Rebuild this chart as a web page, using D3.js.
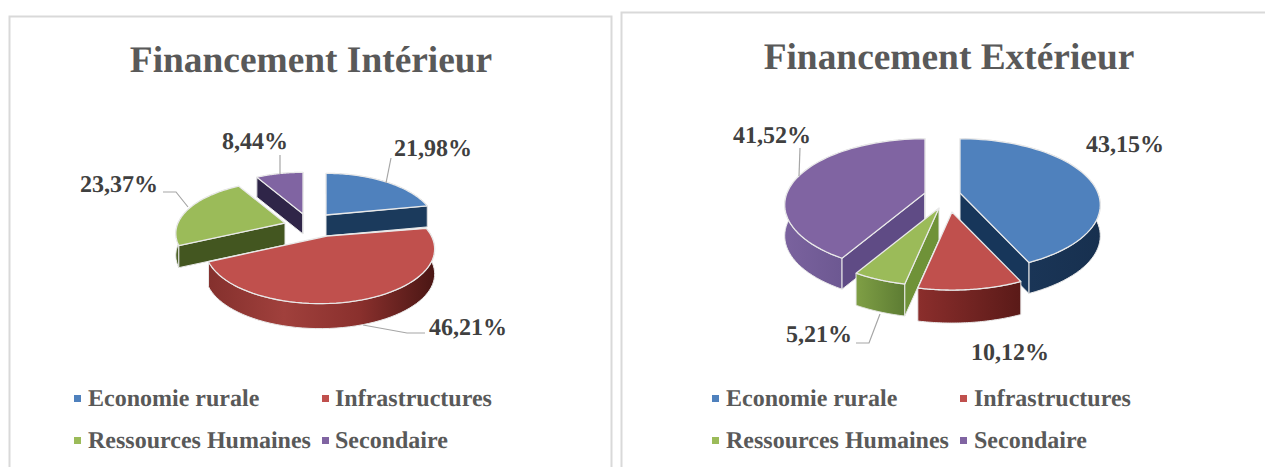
<!DOCTYPE html>
<html>
<head>
<meta charset="utf-8">
<script src="https://cdn.jsdelivr.net/npm/d3@7"></script>
<style>
    html, body { margin: 0; padding: 0; background: #fff; overflow: hidden; }
    text { font-family: "Liberation Serif", serif; font-weight: bold; text-rendering: geometricPrecision; }
</style>
</head>
<body>
<svg id="chart" width="1265" height="467"></svg>
<script>
const categories = ["Economie rurale", "Infrastructures", "Ressources Humaines", "Secondaire"];
const interieurValues = [21.98, 46.21, 23.37, 8.44];
const exterieurValues = [43.15, 10.12, 5.21, 41.52];

const topColors = ["#4f81bd", "#c0504d", "#9bbb59", "#8064a2"];

const svg = d3.select("#chart");
const defs = svg.append("defs");
const color = d3.scaleOrdinal().domain(categories).range(topColors);
const pie = d3.pie().sort(null);
const line = d3.line();

// Slices are placed by hand because each one is pulled out by a different amount
const panels = [
    {
        id: "int",
        title: "Financement Intérieur", titleX: 311, titleY: 72,
        box: [9, 16, 602, 470],
        values: interieurValues,
        radius: 107, tilt: 50, persp: 0.2,
        drawOrder: [3, 0, 2, 1],
        slices: [
            { apex: [326, 215], arc: [326, 215], scale: 1, depth: 21 },
            { apex: [327, 236], arc: [320, 238], scale: 1.05, depth: 25 },
            { apex: [285, 223], arc: [285, 223], scale: 1, depth: 22 },
            { apex: [303, 214], arc: [303, 214], scale: 1, depth: 20 }
        ],
        wallColors: ["#1b3a5c", "#6e2523", "#435620", "#2f2548"],
        outerStops: [
            ["#1b3a5c", "#1b3a5c"],
            ["#84302d", "#a0403c", "#8a302d", "#4a1614"],
            ["#4d6326", "#435620"],
            ["#2f2548", "#2f2548"]
        ],
        labels: [[394, 156], [222, 149], [80, 192], [429, 335]],
        labelIndex: [0, 3, 2, 1],
        leaders: [
            [[386, 183], [391, 158]],
            [[280, 174], [280, 155]],
            [[163, 192], [176, 192], [188, 207]],
            [[363, 325], [407, 333], [425, 333]]
        ],
        legendMarkers: [74, 322], legendText: [88, 335]
    },
    {
        id: "ext",
        title: "Financement Extérieur", titleX: 949, titleY: 69,
        box: [621, 12, 660, 470],
        values: exterieurValues,
        radius: 138, tilt: 64, persp: 0.18,
        drawOrder: [3, 0, 2, 1],
        slices: [
            { apex: [960, 193], arc: [960, 193], scale: 1, depth: 31 },
            { apex: [952, 212], arc: [952, 212], scale: 1, depth: 33 },
            { apex: [939, 208], arc: [939, 208], scale: 1, depth: 32 },
            { apex: [925, 193], arc: [925, 193], scale: 1, depth: 31 }
        ],
        wallColors: ["#17365a", "#6e2523", "#6f9238", "#5f4b85"],
        outerStops: [
            ["#1d3a5e", "#17304f"],
            ["#8b2e2c", "#5a1a18"],
            ["#7f9f45", "#5d7c33"],
            ["#7a629e", "#5a4a80"]
        ],
        labels: [[1086, 152], [971, 360], [786, 342], [733, 143]],
        labelIndex: [0, 1, 2, 3],
        leaders: [
            [[800, 148], [799, 176]],
            [[856, 343], [869, 343], [880, 314]]
        ],
        legendMarkers: [712, 960], legendText: [726, 974]
    }
];

panels.forEach(drawPanel);

function drawPanel(panel) {
    const g = svg.append("g").attr("class", "panel-" + panel.id);

    g.append("rect")
        .attr("x", panel.box[0] + 0.5).attr("y", panel.box[1] + 0.5)
        .attr("width", panel.box[2]).attr("height", panel.box[3])
        .attr("fill", "#fff").attr("stroke", "#d9d9d9").attr("stroke-width", 2);

    g.append("text")
        .attr("x", panel.titleX).attr("y", panel.titleY)
        .attr("text-anchor", "middle")
        .attr("font-size", 37.4).attr("fill", "#595959")
        .text(panel.title);

    const arcs = pie(panel.values);

    // Perspective of the disc: the back of a slice is flatter than the front
    const project = (angle, slice) => {
        const w = 1 + panel.persp * Math.cos(angle);
        return [
            slice.arc[0] + slice.scale * panel.radius * Math.sin(angle) / w,
            slice.arc[1] - slice.scale * panel.tilt * Math.cos(angle) / w
        ];
    };

    panel.drawOrder.forEach(i => {
        const d = arcs[i];
        const slice = panel.slices[i];
        const steps = d3.range(0, 61).map(t => d.startAngle + (d.endAngle - d.startAngle) * t / 60);
        const rim = steps.map(a => project(a, slice));
        const rimMid = rim[30];
        const down = p => [p[0], p[1] + slice.depth];

        const xs = d3.extent(rim, p => p[0]);
        const gradId = `${panel.id}-outer-${i}`;
        const grad = defs.append("linearGradient").attr("id", gradId)
            .attr("gradientUnits", "userSpaceOnUse")
            .attr("x1", xs[0]).attr("x2", xs[1]).attr("y1", 0).attr("y2", 0);
        const stops = panel.outerStops[i];
        stops.forEach((c, k) => grad.append("stop")
            .attr("offset", k / (stops.length - 1)).attr("stop-color", c));

        const edge = "#e9e9e9";

        // Outer wall first, then whichever cut faces look at the camera, then the top
        g.append("path")
            .attr("d", line(rim.concat(rim.map(down).reverse())) + "Z")
            .attr("fill", `url(#${gradId})`)
            .attr("stroke", edge).attr("stroke-width", 1);

        [rim[0], rim[rim.length - 1]].forEach(end => {
            const dx = end[0] - slice.apex[0];
            const dy = end[1] - slice.apex[1];
            const cross = dx * (rimMid[1] - slice.apex[1]) - dy * (rimMid[0] - slice.apex[0]);
            if (dx * cross >= 0) return;
            g.append("path")
                .attr("d", line([slice.apex, end, down(end), down(slice.apex)]) + "Z")
                .attr("fill", panel.wallColors[i])
                .attr("stroke", edge).attr("stroke-width", 1);
        });

        g.append("path")
            .attr("d", line([slice.apex].concat(rim)) + "Z")
            .attr("fill", color(categories[i]))
            .attr("stroke", edge).attr("stroke-width", 1.3)
            .attr("stroke-linejoin", "round");
    });

    panel.leaders.forEach(pts => {
        g.append("path")
            .attr("d", line(pts))
            .attr("fill", "none").attr("stroke", "#a6a6a6").attr("stroke-width", 1.2);
    });

    panel.labels.forEach((pos, k) => {
        const value = panel.values[panel.labelIndex[k]];
        g.append("text")
            .attr("x", pos[0]).attr("y", pos[1])
            .attr("font-size", 24).attr("fill", "#404040")
            .text(value.toFixed(2).replace(".", ",") + "%");
    });

    // Legend, two columns by two rows
    categories.forEach((name, i) => {
        const col = i % 2;
        const baseline = i < 2 ? 406 : 448;
        g.append("rect")
            .attr("x", panel.legendMarkers[col]).attr("y", baseline - 11)
            .attr("width", 7).attr("height", 7)
            .attr("fill", color(name));
        g.append("text")
            .attr("x", panel.legendText[col]).attr("y", baseline)
            .attr("font-size", 24).attr("fill", "#595959")
            .text(name);
    });
}
</script>
</body>
</html>
